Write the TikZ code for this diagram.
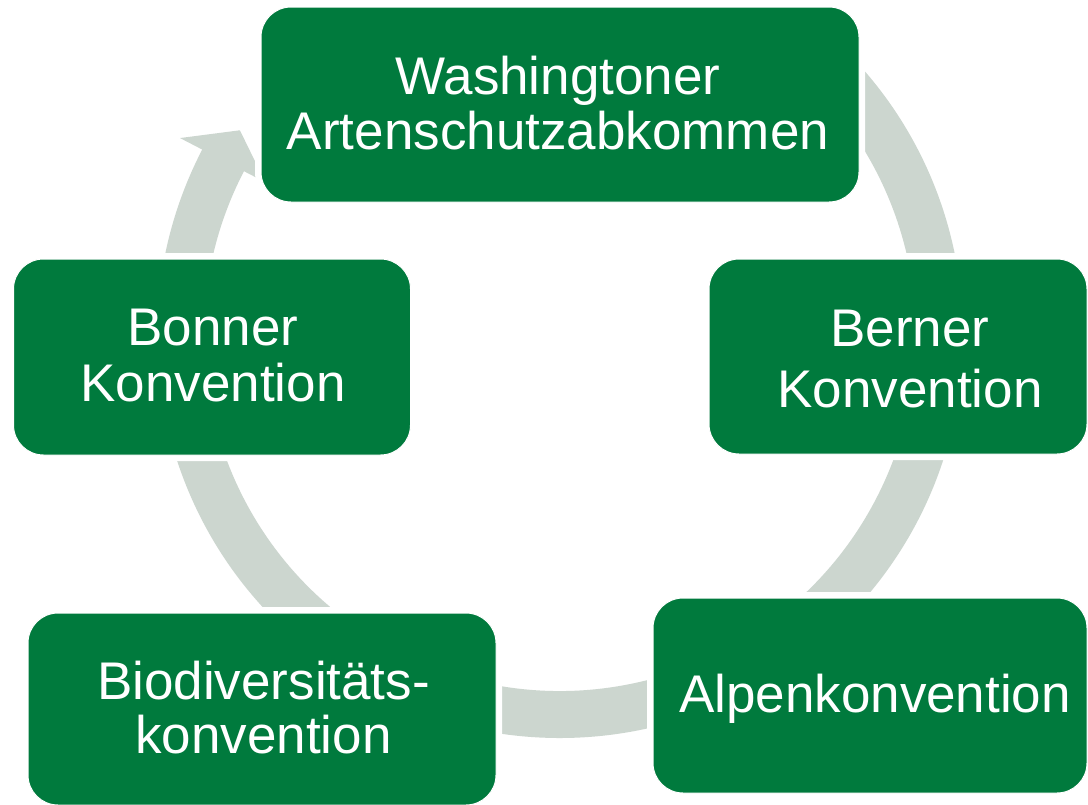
\documentclass[tikz,border=0pt]{standalone}
\usepackage{fontspec}
\setmainfont{Liberation Sans}
\definecolor{sgreen}{HTML}{007A3D}
\definecolor{ringgrey}{HTML}{CCD6CF}
\tikzset{
  box/.style={rectangle, rounded corners=30pt, fill=sgreen, draw=white, line width=1pt,
    preaction={draw=white, line width=12pt}, inner sep=0pt},
  lbl/.style={text=white, align=center, inner sep=0pt, font=\fontsize{53}{55}\selectfont, anchor=base},
  ring/.style={fill=ringgrey}
}
\begin{document}
\begin{tikzpicture}[x=1pt,y=1pt]
\useasboundingbox (0,0) rectangle (1088,-804);
\fill[white] (0,0) rectangle (1088,-804);
% circular arrow
\begin{scope}[shift={(560,-335)}]
\fill[ring] (50:403) arc[start angle=50, end angle=-207.4, radius=403]
  -- (-207.4:428) -- (-212.6:380) -- (-207.4:332) -- (-207.4:356)
  arc[start angle=-207.4, end angle=50, radius=356] -- cycle;
\end{scope}
% boxes
\node[box, minimum width=598pt, minimum height=195pt] (wa) at (560,-104.5) {};
\node[box, minimum width=378pt, minimum height=195pt] (be) at (898,-356.5) {};
\node[box, minimum width=434pt, minimum height=195pt] (al) at (870,-695.5) {};
\node[box, minimum width=468pt, minimum height=192pt] (bi) at (262,-709) {};
\node[box, minimum width=397pt, minimum height=196pt] (bo) at (212,-357) {};
% texts (anchor at baseline of last line)
\node[lbl] (wa-t) at (558,-149) {Washingtoner\\Artenschutzabkommen};
\node[lbl] (be-t) at (910,-407) {Berner\\[6pt]Konvention};
\node[lbl] (al-t) at (875,-712) {Alpenkonvention};
\node[lbl] (bi-t) at (263.5,-753) {Biodiversitäts-\\[-1pt]konvention};
\node[lbl] (bo-t) at (213,-401) {Bonner\\[1pt]Konvention};
\end{tikzpicture}
\end{document}
